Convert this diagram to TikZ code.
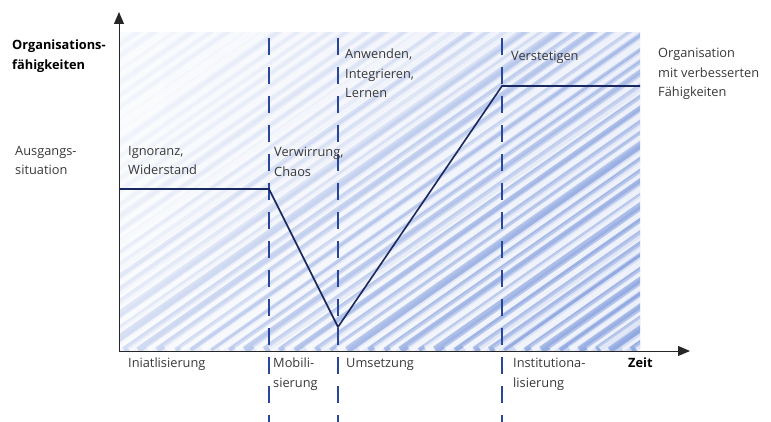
\documentclass[tikz,border=0pt]{standalone}
\usepackage{fontspec}
\setmainfont{Open Sans}
\usetikzlibrary{arrows.meta}
\definecolor{curvecol}{RGB}{25,40,95}
\definecolor{phasecol}{RGB}{40,70,155}
\definecolor{hatchcol}{RGB}{70,110,205}

\begin{document}
\begin{tikzpicture}[x=1pt,y=-1pt,
  lbl/.style={font=\fontsize{12.8}{19.5}\selectfont, text=black!78, align=left, anchor=north west, inner sep=0pt},
  boldlbl/.style={lbl, font=\fontsize{12.8}{19.5}\selectfont\bfseries, text=black},
  phaseline/.style={phasecol, line width=1.2pt, dash pattern=on 17pt off 12pt},
  axis/.style={black!85, line width=1pt, -{Triangle[length=12pt,width=10pt]}},
  capline/.style={curvecol, line width=1.6pt, line join=miter}]
\useasboundingbox (0,0) rectangle (771,422);
% hatched background
\fill[left color=hatchcol!8, right color=hatchcol!32] (119,33) rectangle (640,350);
\begin{scope}
\clip (119,33) rectangle (640,350);
\pgfmathsetseed{5}
\foreach \s in {0,...,58} {
  \pgfmathsetmacro{\xs}{-345+\s*17.5+rnd*6}
  \pgfmathsetmacro{\ww}{3+rnd*5}
  \pgfmathsetmacro{\bw}{3+rnd*5}
  \pgfmathsetmacro{\op}{max(0,min(1,(\xs+230-119)/521))*0.4}
  \draw[white, line width=\ww pt+4pt, opacity=0.3] (\xs,350) -- ++(460,-322);
  \draw[white, line width=\ww pt, opacity=0.6] (\xs,350) -- ++(460,-322);
  \draw[hatchcol, line width=\bw pt, opacity=\op] (\xs+9,350) -- ++(460,-322);
}
\end{scope}

% axes
\coordinate (origin) at (119,351);
\coordinate (tend) at (690,351);
\coordinate (yend) at (119,12);
\draw[axis] (origin) -- (tend);
\draw[axis] (origin) -- (yend);

% phase borders
\foreach \name/\px in {mob/269, ums/338, inst/502} {
  \coordinate (\name top) at (\px,38);
  \coordinate (\name bot) at (\px,422);
  \draw[phaseline] (\name top) -- (\name bot);
}

% capability curve
\coordinate (start) at (119,189);
\coordinate (drop) at (269,189);
\coordinate (low) at (338,327);
\coordinate (high) at (502,86);
\coordinate (stop) at (640,86);
\draw[capline] (start) -- (drop) -- (low) -- (high) -- (stop);

% labels
\node[boldlbl] (ylabel) at (12,40) {Organisations-\\fähigkeiten};
\node[lbl] (ausgang) at (15,146) {Ausgangs-\\situation};
\node[lbl] (ignoranz) at (128,146) {Ignoranz,\\Widerstand};
\node[lbl] (chaos) at (274,147) {Verwirrung,\\Chaos};
\node[lbl] (anwenden) at (345,49) {Anwenden,\\Integrieren,\\Lernen};
\node[lbl] (verstetigen) at (511,51) {Verstetigen};
\node[lbl] (ziel) at (658,48) {Organisation\\mit verbesserten\\Fähigkeiten};
\node[lbl] (init) at (128,358) {Iniatlisierung};
\node[lbl] (mobil) at (273,358) {Mobili-\\sierung};
\node[lbl] (umsetzung) at (346,358) {Umsetzung};
\node[lbl] (institution) at (513,358) {Institutiona-\\lisierung};
\node[boldlbl] (zeit) at (628,358) {Zeit};
\end{tikzpicture}
\end{document}
